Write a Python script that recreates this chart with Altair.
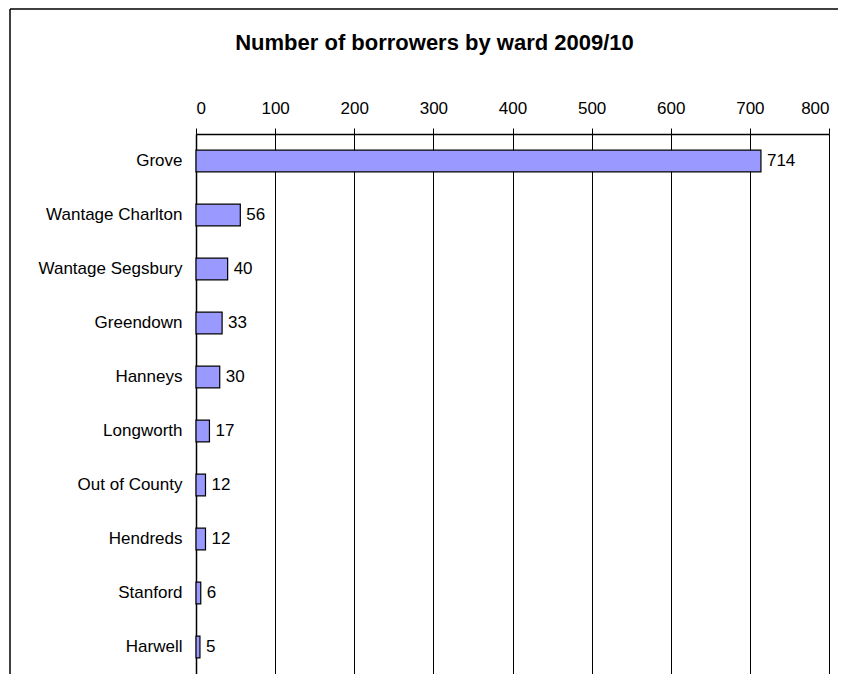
import altair as alt
import pandas as pd

wards = ["Grove", "Wantage Charlton", "Wantage Segsbury", "Greendown", "Hanneys",
         "Longworth", "Out of County", "Hendreds", "Stanford", "Harwell"]
borrowers = [714, 56, 40, 33, 30, 17, 12, 12, 6, 5]
x_ticks = [0, 100, 200, 300, 400, 500, 600, 700, 800]

df = pd.DataFrame({"ward": wards, "borrowers": borrowers})
FONT = "Liberation Sans, Arial, sans-serif"

y_enc = alt.Y("ward:N", sort=wards, title=None,
              scale=alt.Scale(paddingInner=0.6, paddingOuter=0.3),
              axis=alt.Axis(orient="left", domainColor="black", domainWidth=1.5,
                            ticks=False, labelPadding=14, labelFontSize=17,
                            labelFont=FONT, labelColor="black", labelLimit=300))
x_enc = alt.X("borrowers:Q", title=None,
              scale=alt.Scale(domain=[0, 800], nice=False),
              axis=alt.Axis(orient="top", values=x_ticks, grid=True, gridColor="black",
                            gridWidth=1, gridOpacity=1, tickColor="black", tickSize=6,
                            domainColor="black", domainWidth=1.5,
                            labelPadding=11, labelFontSize=17, labelFont=FONT,
                            labelColor="black"))

bars = alt.Chart(df).mark_bar(color="#9999FF", stroke="black", strokeWidth=1.2).encode(
    x=x_enc, y=y_enc)

labels = alt.Chart(df).mark_text(align="left", baseline="middle", dx=6, fontSize=17,
                                 font=FONT, color="black").encode(
    x="borrowers:Q", y=alt.Y("ward:N", sort=wards), text="borrowers:Q")

one = alt.Data(values=[{"k": 1}])
frame_top = alt.Chart(one).mark_rule(color="black", strokeWidth=1.5).encode(
    x=alt.value(-186), x2=alt.value(760), y=alt.value(-125))
frame_left = alt.Chart(one).mark_rule(color="black", strokeWidth=1.5).encode(
    x=alt.value(-186), y=alt.value(-125), y2=alt.value(700))

chart = alt.layer(frame_top, frame_left, bars, labels).properties(
    width=633, height=540,
    title=alt.TitleParams("Number of borrowers by ward 2009/10", anchor="middle",
                          dx=-78, fontSize=22, font=FONT, fontWeight="bold",
                          color="black", offset=-64, baseline="alphabetic"),
    autosize=alt.AutoSizeParams(type="none"),
    padding={"left": 188, "top": 126, "right": 9, "bottom": 0},
).configure_view(stroke="#333333", strokeWidth=2).configure(background="white")

chart.save("out.html", embed_options={"renderer": "svg", "actions": False})
